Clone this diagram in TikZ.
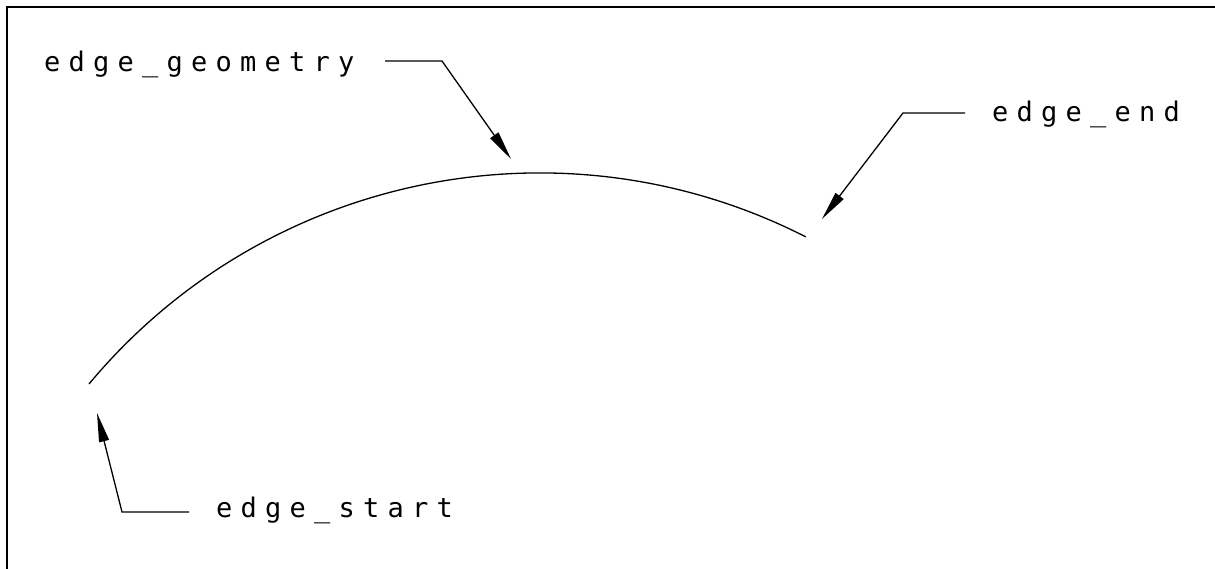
\documentclass[tikz,border=0pt]{standalone}
\usepackage{fontspec}
\newfontfamily\cadfont[LetterSpace=30.5]{DejaVu Sans Mono}
\usetikzlibrary{arrows.meta}
\begin{document}
\begin{tikzpicture}[x=1pt,y=-1pt,
  lbl/.style={font=\cadfont\fontsize{27}{32}\selectfont, anchor=base west, inner sep=0pt, text=black},
  leader/.style={line width=1.3pt, line join=miter, -{Triangle[length=29pt,width=10pt]}},
  curve/.style={line width=1.3pt},
  frameline/.style={line width=2.5pt, line join=miter}]
\useasboundingbox (0,0) rectangle (1215,569);
% frame (cropped on the right and bottom)
\draw[frameline] (7,569) -- (7,7) -- (1215,7);
% edge geometry arc
\coordinate (es) at (89,384);
\coordinate (ee) at (806,237);
\draw[curve] (es) arc[start angle=-140.2, end angle=-63.0, radius=586.4];
% labels
\node[lbl] (tg) at (44,72) {edge\_geometry};
\node[lbl] (te) at (992,122) {edge\_end};
\node[lbl] (ts) at (216,517) {edge\_start};
% leader points
\coordinate (g0) at (385,61);
\coordinate (g1) at (442,61);
\coordinate (gt) at (511,159);
\coordinate (e0) at (965,113);
\coordinate (e1) at (903,113);
\coordinate (et) at (822,219);
\coordinate (s0) at (189,512);
\coordinate (s1) at (122,512);
\coordinate (st) at (97,413);
\draw[leader] (g0) -- (g1) -- (gt);
\draw[leader] (e0) -- (e1) -- (et);
\draw[leader] (s0) -- (s1) -- (st);
\end{tikzpicture}
\end{document}
